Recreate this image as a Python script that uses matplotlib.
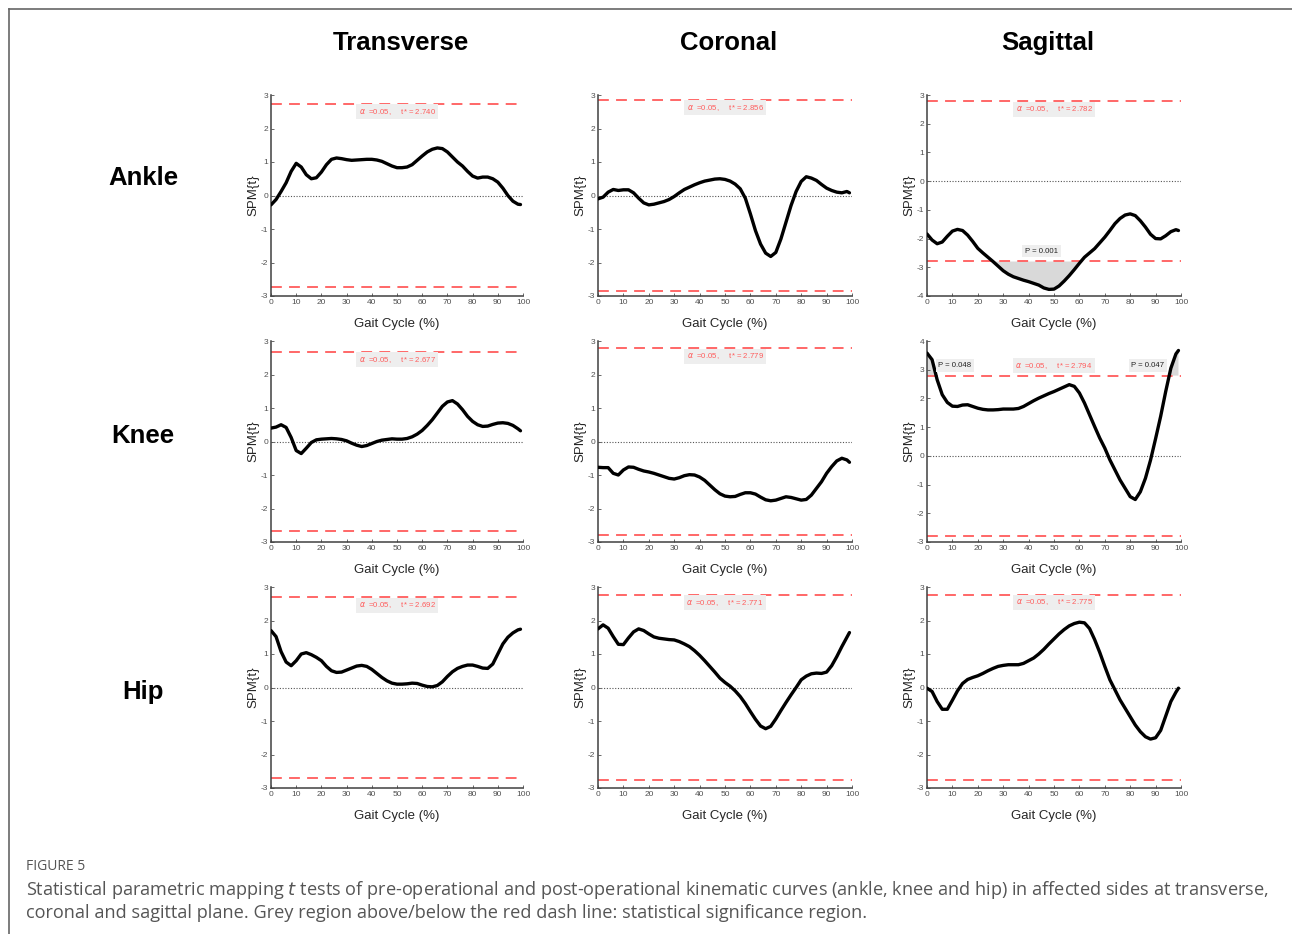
import numpy as np
import matplotlib
matplotlib.use("Agg")
import matplotlib.pyplot as plt
from matplotlib.lines import Line2D

# SPM{t} curves, sampled every 2 % of the gait cycle (last node at 99 %)
gait = list(range(0, 100, 2)) + [99]

ankle_transverse = [-0.28, -0.12, 0.12, 0.38, 0.72, 0.96, 0.85, 0.62, 0.50, 0.53,
                    0.70, 0.92, 1.08, 1.12, 1.10, 1.07, 1.05, 1.06, 1.07, 1.08,
                    1.08, 1.06, 1.02, 0.95, 0.88, 0.83, 0.83, 0.85, 0.92, 1.05,
                    1.18, 1.30, 1.38, 1.42, 1.40, 1.30, 1.15, 1.00, 0.88, 0.72,
                    0.58, 0.52, 0.55, 0.55, 0.50, 0.40, 0.22, 0.00, -0.17, -0.26, -0.27]
ankle_coronal = [-0.10, -0.05, 0.10, 0.18, 0.15, 0.17, 0.17, 0.08, -0.08, -0.22,
                 -0.28, -0.26, -0.22, -0.18, -0.12, -0.03, 0.08, 0.18, 0.25, 0.32,
                 0.38, 0.43, 0.46, 0.49, 0.50, 0.48, 0.43, 0.34, 0.20, -0.08,
                 -0.55, -1.05, -1.45, -1.72, -1.82, -1.70, -1.30, -0.80, -0.30, 0.12,
                 0.42, 0.56, 0.52, 0.45, 0.33, 0.22, 0.15, 0.10, 0.08, 0.12, 0.08]
ankle_sagittal = [-1.84, -2.05, -2.18, -2.12, -1.92, -1.74, -1.68, -1.72, -1.88, -2.10,
                  -2.34, -2.50, -2.65, -2.80, -2.96, -3.12, -3.24, -3.33, -3.39, -3.45,
                  -3.50, -3.56, -3.62, -3.72, -3.77, -3.76, -3.65, -3.48, -3.29, -3.08,
                  -2.86, -2.65, -2.50, -2.35, -2.15, -1.95, -1.72, -1.48, -1.30, -1.18,
                  -1.14, -1.20, -1.38, -1.60, -1.85, -2.00, -2.01, -1.90, -1.76, -1.69, -1.72]
knee_transverse = [0.40, 0.43, 0.50, 0.42, 0.12, -0.27, -0.36, -0.20, -0.03, 0.05,
                   0.07, 0.08, 0.09, 0.08, 0.06, 0.02, -0.05, -0.11, -0.15, -0.12,
                   -0.06, 0.00, 0.04, 0.06, 0.08, 0.07, 0.07, 0.09, 0.14, 0.22,
                   0.33, 0.48, 0.65, 0.85, 1.05, 1.18, 1.22, 1.12, 0.95, 0.75,
                   0.60, 0.50, 0.45, 0.46, 0.51, 0.55, 0.56, 0.54, 0.48, 0.38, 0.32]
knee_coronal = [-0.77, -0.78, -0.78, -0.95, -1.00, -0.85, -0.76, -0.77, -0.83, -0.88,
                -0.91, -0.95, -1.00, -1.05, -1.10, -1.12, -1.08, -1.02, -0.99, -1.00,
                -1.06, -1.16, -1.30, -1.44, -1.56, -1.63, -1.65, -1.64, -1.58, -1.53,
                -1.53, -1.57, -1.66, -1.74, -1.77, -1.75, -1.70, -1.65, -1.67, -1.71,
                -1.75, -1.73, -1.60, -1.40, -1.20, -0.95, -0.75, -0.58, -0.50, -0.55, -0.62]
knee_sagittal = [3.58, 3.35, 2.65, 2.13, 1.86, 1.73, 1.72, 1.77, 1.78, 1.72,
                 1.66, 1.62, 1.60, 1.60, 1.61, 1.63, 1.63, 1.63, 1.65, 1.72,
                 1.82, 1.92, 2.01, 2.09, 2.17, 2.24, 2.32, 2.40, 2.48, 2.42,
                 2.19, 1.84, 1.43, 1.02, 0.62, 0.27, -0.14, -0.49, -0.84, -1.13,
                 -1.42, -1.52, -1.25, -0.78, -0.15, 0.60, 1.38, 2.25, 3.05, 3.55, 3.67]
hip_transverse = [1.70, 1.52, 1.07, 0.76, 0.65, 0.80, 1.00, 1.04, 0.98, 0.90,
                  0.80, 0.63, 0.50, 0.45, 0.46, 0.52, 0.58, 0.64, 0.66, 0.63,
                  0.54, 0.42, 0.30, 0.20, 0.13, 0.10, 0.10, 0.11, 0.13, 0.12,
                  0.07, 0.03, 0.02, 0.06, 0.17, 0.33, 0.47, 0.57, 0.63, 0.67,
                  0.67, 0.63, 0.58, 0.57, 0.70, 1.00, 1.30, 1.50, 1.63, 1.72, 1.74]
hip_coronal = [1.75, 1.87, 1.77, 1.52, 1.29, 1.28, 1.48, 1.66, 1.75, 1.70,
               1.60, 1.51, 1.47, 1.45, 1.43, 1.42, 1.37, 1.30, 1.22, 1.10,
               0.96, 0.80, 0.63, 0.46, 0.28, 0.15, 0.04, -0.10, -0.27, -0.48,
               -0.72, -0.95, -1.15, -1.23, -1.16, -0.94, -0.69, -0.45, -0.22, 0.00,
               0.23, 0.34, 0.41, 0.43, 0.42, 0.46, 0.65, 0.92, 1.22, 1.50, 1.64]
hip_sagittal = [-0.02, -0.12, -0.42, -0.65, -0.65, -0.38, -0.10, 0.12, 0.24, 0.30,
                0.35, 0.42, 0.50, 0.57, 0.63, 0.66, 0.68, 0.68, 0.68, 0.72,
                0.80, 0.88, 1.00, 1.14, 1.30, 1.45, 1.60, 1.73, 1.84, 1.91,
                1.95, 1.93, 1.76, 1.43, 1.05, 0.63, 0.23, -0.07, -0.37, -0.62,
                -0.87, -1.12, -1.32, -1.47, -1.54, -1.50, -1.28, -0.85, -0.42, -0.14, -0.02]

joints = ["Ankle", "Knee", "Hip"]
planes = ["Transverse", "Coronal", "Sagittal"]
curves = [[ankle_transverse, ankle_coronal, ankle_sagittal],
          [knee_transverse, knee_coronal, knee_sagittal],
          [hip_transverse, hip_coronal, hip_sagittal]]
t_crit = [[2.740, 2.856, 2.782],
          [2.677, 2.779, 2.794],
          [2.692, 2.771, 2.775]]
ylims = [[(-3, 3), (-3, 3), (-4, 3)],
         [(-3, 3), (-3, 3), (-3, 4)],
         [(-3, 3), (-3, 3), (-3, 3)]]
# significant clusters: (row, col, x of label, p value)
clusters = [(0, 2, 45, "0.001"), (1, 2, 11, "0.048"), (1, 2, 87, "0.047")]

W, H = 1292, 934
plt.rcParams["font.family"] = ["Liberation Sans", "DejaVu Sans"]
plt.rcParams["axes.unicode_minus"] = False
fig = plt.figure(figsize=(W / 100, H / 100), dpi=100)

col_left = [271, 598, 927]
col_w = [252, 254, 254]
row_top = [95, 341, 587]
ax_h = 201

red = "#ff5c5c"
tick_grey = "#505050"

for r in range(3):
    for c in range(3):
        ax = fig.add_axes([col_left[c] / W, 1 - (row_top[r] + ax_h) / H,
                           col_w[c] / W, ax_h / H])
        y = np.array(curves[r][c])
        x = np.array(gait)
        ts = t_crit[r][c]
        ax.axhline(0, color="#555555", lw=0.8, ls=(0, (1, 1.5)), zorder=1)
        ax.axhline(ts, color=red, lw=1.3, ls=(0, (6, 4)), zorder=2)
        ax.axhline(-ts, color=red, lw=1.3, ls=(0, (6, 4)), zorder=2)
        # grey supra-threshold clusters
        xf = np.linspace(0, 99, 991)
        yf = np.interp(xf, x, y)
        ax.fill_between(xf, yf, ts, where=yf > ts, color="#d9d9d9", lw=0, zorder=1.5)
        ax.fill_between(xf, yf, -ts, where=yf < -ts, color="#d9d9d9", lw=0, zorder=1.5)
        ax.plot(x, y, color="black", lw=2.4, solid_capstyle="round",
                solid_joinstyle="round", zorder=3)

        lo, hi = ylims[r][c]
        ax.set_xlim(0, 100)
        ax.set_ylim(lo, hi)
        ax.set_xticks(range(0, 101, 10))
        ax.set_yticks(range(lo, hi + 1))
        for s in ["top", "right"]:
            ax.spines[s].set_visible(False)
        for s in ["left", "bottom"]:
            ax.spines[s].set_color("#404040")
            ax.spines[s].set_linewidth(1.1)
        ax.tick_params(direction="in", length=2.5, width=0.6, labelsize=6,
                       colors=tick_grey, pad=2)
        ax.set_xlabel("Gait Cycle (%)", fontsize=9.5, color="#262626", labelpad=9)
        ax.set_ylabel("SPM{t}", fontsize=9.5, color="#262626", labelpad=1)

        # threshold label
        above = (r, c) == (1, 2)
        off = 10 if above else -8
        ax.annotate(r"$\alpha$  =0.05,     t* = %.3f" % ts, xy=(50, ts),
                    xytext=(0, off * 0.72), textcoords="offset points",
                    ha="center", va="center", fontsize=5.6, color=red,
                    bbox=dict(boxstyle="square,pad=0.35", fc="#eeeeee", ec="none"),
                    zorder=4)

for r, c, xl, p in clusters:
    ax = fig.axes[r * 3 + c]
    ts = t_crit[r][c]
    sign = -1 if r == 0 else 1
    ax.annotate("P = " + p, xy=(xl, sign * ts), xytext=(0, 10 * 0.72),
                textcoords="offset points", ha="center", va="center",
                fontsize=5.6, color="#222222",
                bbox=dict(boxstyle="square,pad=0.35", fc="#eeeeee", ec="none"),
                zorder=4)

# column and row headings
col_cx = [401, 729, 1048]
for c, name in enumerate(planes):
    fig.text(col_cx[c] / W, 1 - 43 / H, name, ha="center", va="center",
             fontsize=18.5, fontweight="bold")
row_cy = [178, 436, 692]
for r, name in enumerate(joints):
    fig.text(143 / W, 1 - row_cy[r] / H, name, ha="center", va="center",
             fontsize=18.5, fontweight="bold")

# frame lines at top and left
fig.add_artist(Line2D([9 / W, 1], [1 - 9 / H, 1 - 9 / H], color="#666666", lw=1.2))
fig.add_artist(Line2D([9 / W, 9 / W], [1 - 9 / H, 0], color="#666666", lw=1.2))

fig.text(26 / W, 1 - 866 / H, "FIGURE 5", ha="left", va="center", fontsize=10,
         color="#555555", family="Open Sans")
fig.text(26 / W, 1 - 890 / H,
         "Statistical parametric mapping $t$ tests of pre-operational and post-operational "
         "kinematic curves (ankle, knee and hip) in affected sides at transverse,",
         ha="left", va="center", fontsize=13.1, color="#555555", family="Open Sans")
fig.text(26 / W, 1 - 913 / H,
         "coronal and sagittal plane. Grey region above/below the red dash line: "
         "statistical significance region.",
         ha="left", va="center", fontsize=13.1, color="#555555", family="Open Sans")

fig.savefig("out.png", dpi=100)
